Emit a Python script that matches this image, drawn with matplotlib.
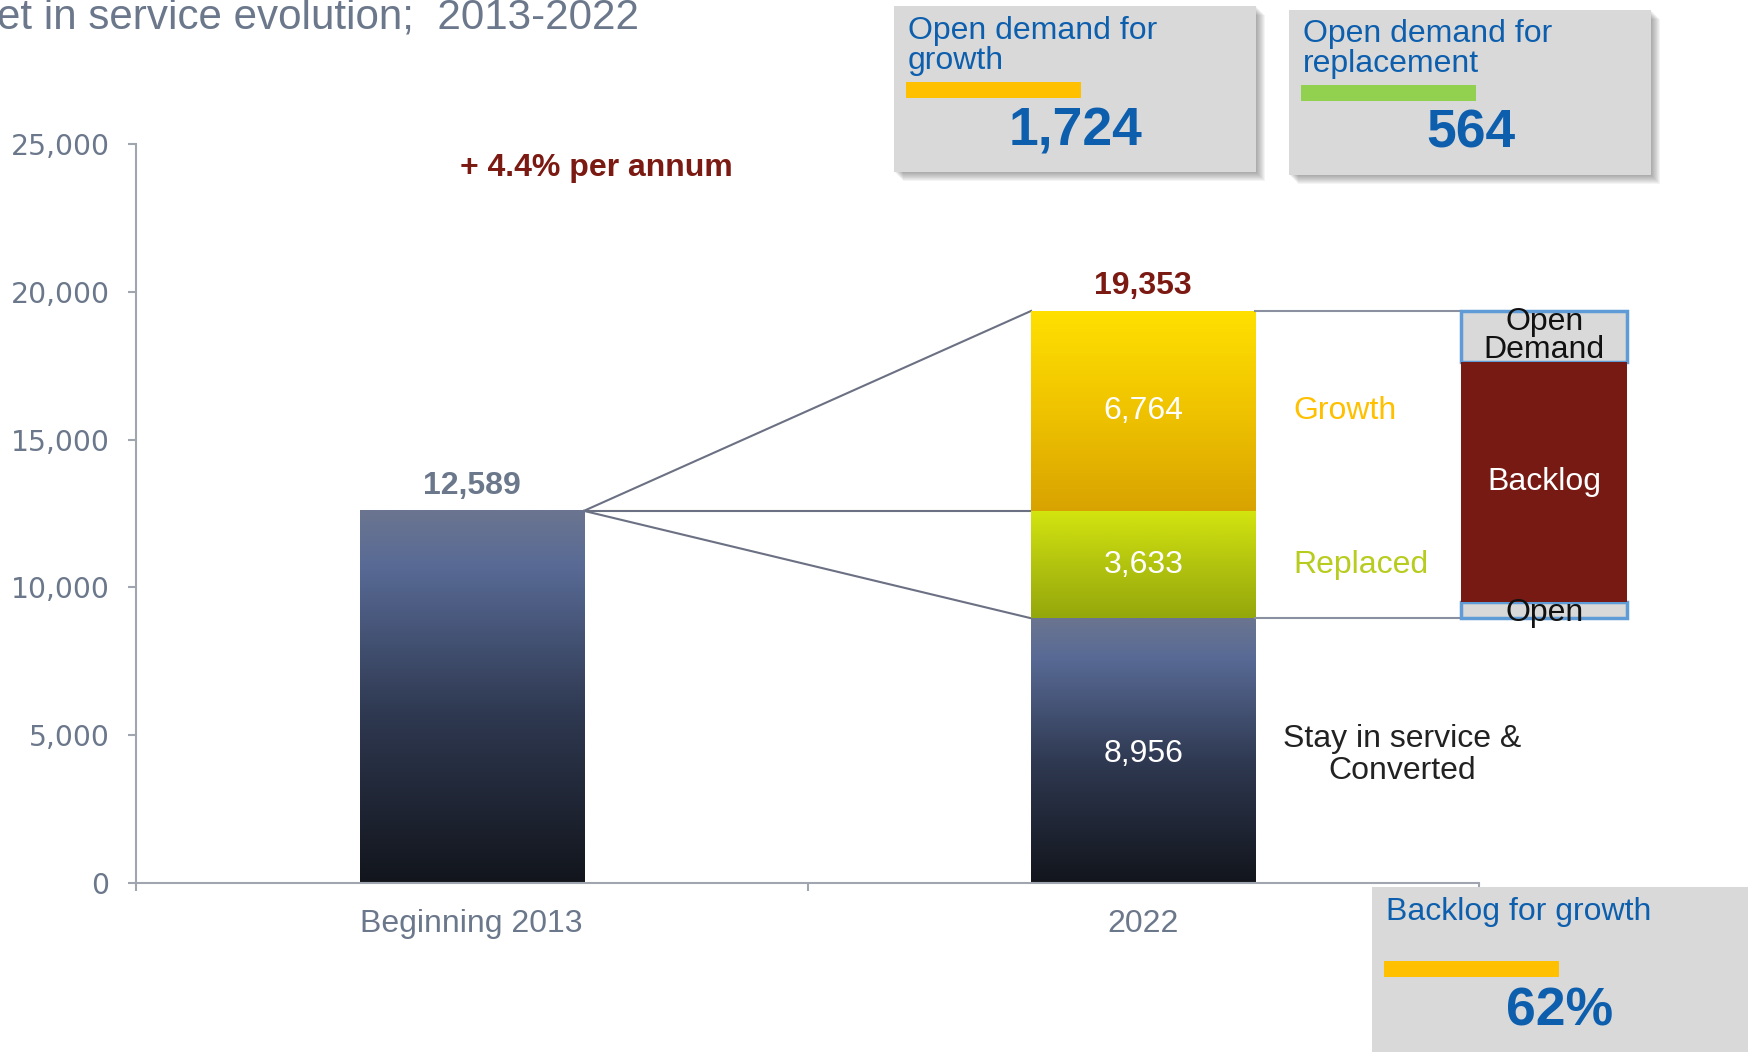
import numpy as np
import matplotlib
matplotlib.use('Agg')
import matplotlib.pyplot as plt
from matplotlib.patches import Rectangle
from matplotlib.colors import LinearSegmentedColormap

plt.rcParams['font.family'] = ['Liberation Sans', 'DejaVu Sans']

# data
categories = ['Beginning 2013', '2022']
start_total = 12589
stay = 8956
replaced = 3633
growth = 6764
open_growth = 1724
open_repl = 564
backlog_share = '62%'
growth_rate = '+ 4.4% per annum'
title = 'et in service evolution;  2013-2022'

end_total = stay + replaced + growth
backlog = (growth - open_growth) + (replaced - open_repl)

W, H = 1748, 1052
fig = plt.figure(figsize=(W / 100, H / 100), dpi=100)
ax = fig.add_axes([136 / W, 1 - 883 / H, (1479 - 136) / W, (883 - 144) / H])

def fx(px):
    return px / W

def fy(py):
    return 1 - py / H

grey_txt = '#6b778b'
red_txt = '#7b1a12'
blue_txt = '#0d5fae'
line_c = '#6b7083'
fs = 23

dark_cm = LinearSegmentedColormap.from_list('dark', [(0, '#12151c'), (0.45, '#2e3850'), (0.85, '#586a95'), (1, '#6b7590')])
gold_cm = LinearSegmentedColormap.from_list('gold', ['#d8a300', '#efc300', '#ffe000'])
lime_cm = LinearSegmentedColormap.from_list('lime', ['#94a70b', '#b3c40f', '#d3e50f'])

bw = 0.334
grad = np.linspace(0, 1, 256).reshape(-1, 1)

def gbar(x, y0, y1, cmap):
    ax.imshow(grad, extent=(x - bw / 2, x + bw / 2, y0, y1), origin='lower',
              cmap=cmap, aspect='auto', zorder=2, interpolation='bilinear')

gbar(0, 0, start_total, dark_cm)
gbar(1, 0, stay, dark_cm)
gbar(1, stay, stay + replaced, lime_cm)
gbar(1, stay + replaced, end_total, gold_cm)

# connectors
ax.plot([bw / 2, 1 - bw / 2], [start_total, end_total], color=line_c, lw=1.5, zorder=1)
ax.plot([bw / 2, 1 - bw / 2], [start_total, start_total], color=line_c, lw=1.5, zorder=1)
ax.plot([bw / 2, 1 - bw / 2], [start_total, stay], color=line_c, lw=1.5, zorder=1)

# backlog split bar
bx, bbw = 1.597, 0.247
ax.plot([1 + bw / 2, bx - bbw / 2], [end_total, end_total], color='#8a90a0', lw=1.5, clip_on=False)
ax.plot([1 + bw / 2, bx - bbw / 2], [stay, stay], color='#8a90a0', lw=1.5, clip_on=False)
ax.bar(bx, open_repl, bbw, bottom=stay, color='#d9d9d9', edgecolor='#5f9bd6', lw=2.5, clip_on=False, zorder=3)
ax.bar(bx, open_growth, bbw, bottom=end_total - open_growth, color='#d9d9d9', edgecolor='#5f9bd6', lw=2.5, clip_on=False, zorder=3)
ax.bar(bx, backlog, bbw, bottom=stay + open_repl, color='#771a14', lw=0, clip_on=False, zorder=4)

ax.text(bx, end_total - open_growth / 2 + 20, 'Open\nDemand', ha='center', va='center', fontsize=fs,
        linespacing=0.9, color='#111111', zorder=5, clip_on=False)
ax.text(bx, stay + open_repl + backlog / 2, 'Backlog', ha='center', va='center', fontsize=fs,
        color='white', zorder=5, clip_on=False)
ax.text(bx, stay + open_repl / 2 - 100, 'Open', ha='center', va='center', fontsize=fs,
        color='#111111', zorder=5, clip_on=False)

# value labels
ax.text(0, start_total + 350, f'{start_total:,}', ha='center', va='bottom', fontsize=fs,
        fontweight='bold', color=grey_txt)
ax.text(1, end_total + 350, f'{end_total:,}', ha='center', va='bottom', fontsize=fs,
        fontweight='bold', color=red_txt)
ax.text(1, stay / 2 - 100, f'{stay:,}', ha='center', va='center', fontsize=fs, color='white', zorder=5)
ax.text(1, stay + replaced / 2, f'{replaced:,}', ha='center', va='center', fontsize=fs, color='white', zorder=5)
ax.text(1, stay + replaced + growth / 2, f'{growth:,}', ha='center', va='center', fontsize=fs, color='white', zorder=5)

ax.text(1.224, stay + replaced + growth / 2, 'Growth', ha='left', va='center', fontsize=fs, color='#ffc000')
ax.text(1.224, stay + replaced / 2, 'Replaced', ha='left', va='center', fontsize=fs, color='#b8cc20')
ax.text(1.385, stay / 2 - 150, 'Stay in service &\nConverted', ha='center', va='center', fontsize=fs,
        color='#222222', linespacing=1.12)

ax.text(0.185, 24180, growth_rate, ha='center', va='center', fontsize=fs, fontweight='bold', color=red_txt)

ax.set_xlim(-0.5, 1.5)
ax.set_ylim(0, 25000)
ax.set_xticks([0, 1])
ax.set_xticklabels(categories)
ax.set_xticks([-0.5, 0.5, 1.5], minor=True)
ax.tick_params(axis='x', which='major', length=0, pad=19, labelsize=fs, labelcolor=grey_txt)
ax.tick_params(axis='x', which='minor', length=6, color='#a0a5b0', width=1.5)
ax.set_yticks(range(0, 25001, 5000))
ax.set_yticklabels([f'{v:,}' for v in range(0, 25001, 5000)], family='DejaVu Sans')
ax.tick_params(axis='y', length=6, width=1.5, color='#a0a5b0', pad=13, labelsize=20.3, labelcolor=grey_txt)
for s in ['top', 'right']:
    ax.spines[s].set_visible(False)
for s in ['left', 'bottom']:
    ax.spines[s].set_color('#a0a5b0')
    ax.spines[s].set_linewidth(1.5)

fig.text(fx(-3), fy(18), title, ha='left', va='center', fontsize=30.3, color=grey_txt)

# info boxes
def info_box(x0, y0, x1, y1, label, bar_c, bar_y, value, value_xy, label_y):
    for i in range(1, 10):
        fig.patches.append(Rectangle((fx(x0 + i), fy(y1 + i)), (x1 - x0) / W, (y1 - y0) / H,
                                     transform=fig.transFigure, color='#444444', alpha=0.06, lw=0))
    fig.patches.append(Rectangle((fx(x0), fy(y1)), (x1 - x0) / W, (y1 - y0) / H,
                                 transform=fig.transFigure, color='#d9d9d9', lw=0))
    fig.patches.append(Rectangle((fx(x0 + 12), fy(bar_y + 16)), 175 / W, 16 / H,
                                 transform=fig.transFigure, color=bar_c, lw=0))
    fig.text(fx(x0 + 14), fy(label_y), label, ha='left', va='top', fontsize=fs, color=blue_txt,
             linespacing=0.98)
    fig.text(fx(value_xy[0]), fy(value_xy[1]), value, ha='center', va='center', fontsize=38.5,
             fontweight='bold', color=blue_txt)

info_box(894, 6, 1256, 172, 'Open demand for\ngrowth', '#ffc000', 82, f'{open_growth:,}', (1075, 132), 16)
info_box(1289, 10, 1651, 175, 'Open demand for\nreplacement', '#92d050', 85, f'{open_repl:,}', (1471, 134), 19)
info_box(1372, 887, 1760, 1070, 'Backlog for growth', '#ffc000', 961, backlog_share, (1560, 1012), 897)

fig.savefig('out.png', dpi=100)
